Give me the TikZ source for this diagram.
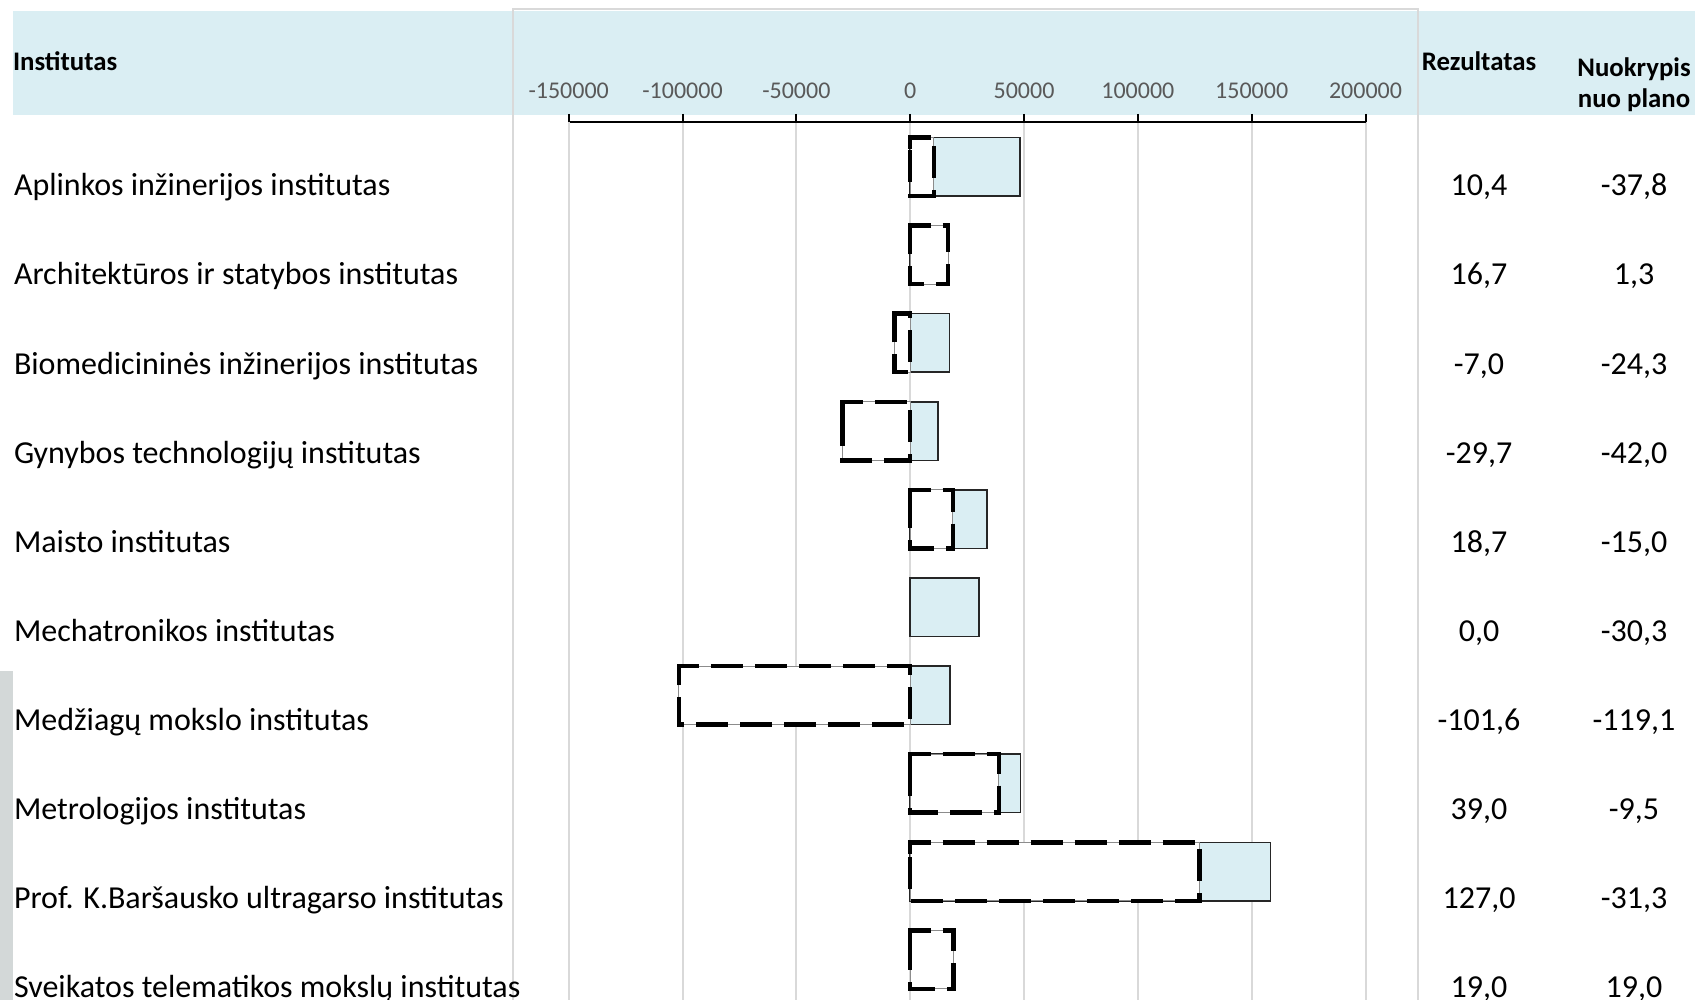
\documentclass[tikz,border=0pt]{standalone}
\usepackage{fontspec}
\setmainfont{Carlito}
\definecolor{hdr}{HTML}{DAEEF3}
\definecolor{gridc}{HTML}{D9D9D9}
\definecolor{lblc}{HTML}{595959}
\definecolor{sidec}{HTML}{D3D8D8}
\begin{document}
\begin{tikzpicture}[x=1pt,y=-1pt,
  every node/.style={inner sep=0pt,outer sep=0pt},
  bodytxt/.style={font=\fontsize{32}{38}\selectfont,text=black},
  headtxt/.style={font=\fontsize{26.8}{32}\selectfont\bfseries,text=black},
  ticklbl/.style={font=\fontsize{24}{29}\selectfont,text=lblc,anchor=base},
  gridline/.style={draw=gridc,line width=2pt},
  planbar/.style={fill=hdr,draw=black!85,line width=1.5pt},
  resbase/.style={fill=white,draw=black!45,line width=1pt},
  resdash/.style={draw=black,line width=4.5pt,dash pattern=on 32pt off 12pt}]
\useasboundingbox (0,0) rectangle (1695,1000);
\fill[white] (0,0) rectangle (1695,1000);
% header band
\fill[hdr] (13,11) rectangle (1695,115);
% chart panel border
\draw[gridline] (513,1010) -- (513,9) -- (1418,9) -- (1418,1010);
% left side strip
\fill[sidec] (0,671) rectangle (13,1000);
% gridlines, ticks, labels
\foreach \v/\nm in {-150/a,-100/b,-50/c,0/d,50/e,100/f,150/g,200/h}{
  \pgfmathsetmacro\xx{910.2+2.2766*\v}
  \draw[gridline] (\xx,122) -- (\xx,1000);
  \draw[black,line width=2pt] (\xx,114) -- (\xx,122);
  \node[ticklbl] (t\nm) at (\xx,99) {\ifnum\v=0 0\else\v000\fi};
}
\draw[black,line width=2.5pt] (569.7,122) -- (1366.4,122);
% headers
\node[headtxt,anchor=base west] (hinst) at (13,71) {Institutas};
\node[headtxt,anchor=base] (hrez) at (1479,71) {Rezultatas};
\node[headtxt,anchor=base] (hnuo1) at (1634,77) {Nuokrypis};
\node[headtxt,anchor=base] (hnuo2) at (1634,108) {nuo plano};
% rows
\foreach \i/\nm/\r/\d/\rs/\ds in {
  0/{Aplinkos inžinerijos institutas}/10.4/-37.8/{10,4}/{-37,8},
  1/{Architektūros ir statybos institutas}/16.7/1.3/{16,7}/{1,3},
  2/{Biomedicininės inžinerijos institutas}/-7.0/-24.3/{-7,0}/{-24,3},
  3/{Gynybos technologijų institutas}/-29.7/-42.0/{-29,7}/{-42,0},
  4/{Maisto institutas}/18.7/-15.0/{18,7}/{-15,0},
  5/{Mechatronikos institutas}/0.0/-30.3/{0,0}/{-30,3},
  6/{Medžiagų mokslo institutas}/-101.6/-119.1/{-101,6}/{-119,1},
  7/{Metrologijos institutas}/39.0/-9.5/{39,0}/{-9,5},
  8/{Prof. K.Baršausko ultragarso institutas}/127.0/-31.3/{127,0}/{-31,3},
  9/{Sveikatos telematikos mokslų institutas}/19.0/19.0/{19,0}/{19,0}}{
  \pgfmathsetmacro\yt{137.5+88.1*\i}
  \pgfmathsetmacro\yb{\yt+58.5}
  \pgfmathsetmacro\ytd{\yt+11.7}
  \pgfmathsetmacro\xp{910.2+2.2766*(\r-\d)}
  \pgfmathsetmacro\xr{910.2+2.2766*\r}
  \pgfmathsetmacro\xl{min(910.2,\xr)}
  \pgfmathsetmacro\xh{max(910.2,\xr)}
  \pgfmathtruncatemacro\hasres{abs(\r)>0.05}
  \pgfmathsetmacro\ybase{196+89*\i}
  \pgfmathtruncatemacro\hasplan{abs(\r-\d)>0.05}
  \ifnum\hasplan=1
    \draw[planbar] (910.2,\yt) rectangle (\xp,\yb);
  \fi
  \ifnum\hasres=1
    \draw[resbase] (\xl,\yt) rectangle (\xh,\yb);
    \draw[resdash] (\xl,\ytd) -- (\xl,\yt) -- (\xh,\yt) -- (\xh,\yb) -- (\xl,\yb) -- cycle;
  \fi
  \node[bodytxt,anchor=base west] (n\i) at (14,\ybase) {\nm};
  \node[bodytxt,anchor=base] (r\i) at (1479,\ybase) {\rs};
  \node[bodytxt,anchor=base] (d\i) at (1634,\ybase) {\ds};
}
\end{tikzpicture}
\end{document}
